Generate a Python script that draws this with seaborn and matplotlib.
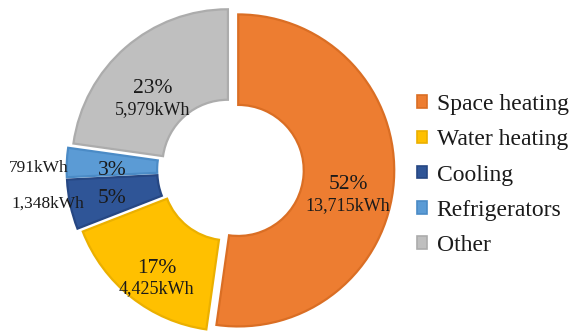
import numpy as np
import matplotlib
matplotlib.use("Agg")
import matplotlib.pyplot as plt
from matplotlib.patches import Patch
import seaborn as sns

# Household energy use by end use
categories = ["Space heating", "Water heating", "Cooling", "Refrigerators", "Other"]
energy_kwh = [13715, 4425, 1348, 791, 5979]
percent_labels = ["52%", "17%", "5%", "3%", "23%"]
kwh_labels = ["13,715kWh", "4,425kWh", "1,348kWh", "791kWh", "5,979kWh"]

fill_colors = ["#ED7D31", "#FFC000", "#2F5597", "#5B9BD5", "#BFBFBF"]
edge_colors = ["#DA6E24", "#EBB000", "#264783", "#4B8BC6", "#ACACAC"]

sns.set_theme(style="white")
SERIF = ["Liberation Serif", "DejaVu Serif"]
plt.rcParams["font.family"] = SERIF
palette = sns.color_palette(fill_colors)

fig = plt.figure(figsize=(5.77, 3.33), dpi=100)
R_PX = 156.0
span = 1.1
side_px = 2 * span * R_PX
cx, cy = 232.0, 333.0 - 170.0
ax = fig.add_axes([(cx - side_px / 2) / 577, (cy - side_px / 2) / 333,
                   side_px / 577, side_px / 333])

ring_width = 0.58
explode = [0.04, 0.04, 0.06, 0.06, 0.04]
wedges, _ = ax.pie(
    energy_kwh, colors=palette, startangle=90, counterclock=False,
    explode=explode, radius=1.0,
    wedgeprops=dict(width=ring_width, linewidth=1.6),
)
for w, ec in zip(wedges, edge_colors):
    w.set_edgecolor(ec)
    w.set_joinstyle("miter")

ax.set_xlim(-span, span)
ax.set_ylim(-span, span)
ax.set_aspect("equal")
ax.axis("off")

# label placement relative to each wedge's bisector
label_r = [0.722, 0.806, 0.73, 0.71, 0.64]
angle_shift = [-8.5, 3.8, 1.6, 3.0, 7.6]
outer_r = [None, None, 1.14, 1.18, None]
outer_shift = [0, 0, -1.7, 2.2, 0]
text_color = "#1a1a1a"
for i, w in enumerate(wedges):
    bis = (w.theta1 + w.theta2) / 2
    mid = np.deg2rad(bis + angle_shift[i])
    x0, y0 = w.center
    x = x0 + label_r[i] * np.cos(mid)
    y = y0 + label_r[i] * np.sin(mid)
    if outer_r[i] is not None:
        ax.text(x, y, percent_labels[i], ha="center", va="center",
                fontsize=15.5, color=text_color)
        out = np.deg2rad(bis + outer_shift[i])
        xo = x0 + outer_r[i] * np.cos(out)
        yo = y0 + outer_r[i] * np.sin(out)
        ax.text(xo, yo, kwh_labels[i], ha="center", va="center",
                fontsize=12.5, color=text_color)
    else:
        ax.text(x, y + 0.066, percent_labels[i], ha="center", va="center",
                fontsize=15.5, color=text_color)
        ax.text(x, y - 0.066, kwh_labels[i], ha="center", va="center",
                fontsize=13, color=text_color)

handles = [Patch(facecolor=fc, edgecolor=ec, linewidth=1.2)
           for fc, ec in zip(fill_colors, edge_colors)]
leg = fig.legend(handles, categories, loc="center left",
                 bbox_to_anchor=(400 / 577, 1 - 175 / 333), frameon=False,
                 prop=dict(family=SERIF, size=17), labelcolor=text_color,
                 handlelength=0.45, handleheight=0.45,
                 handletextpad=0.4, labelspacing=0.6, borderpad=0.2)
for t in leg.get_texts():
    t.set_fontfamily(SERIF)

fig.savefig("out.png", dpi=100)
